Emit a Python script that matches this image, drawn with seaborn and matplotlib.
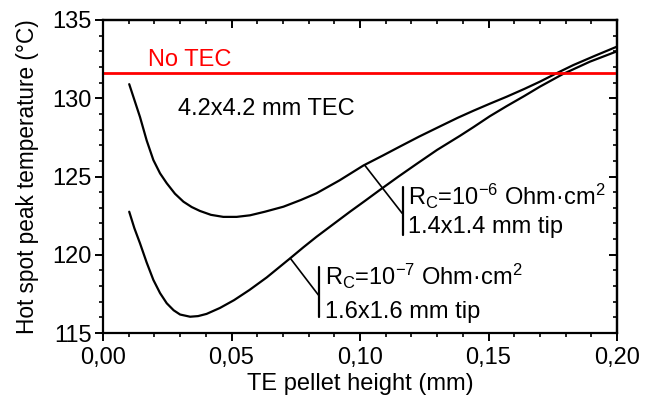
import matplotlib
matplotlib.use("Agg")
import matplotlib.pyplot as plt
import seaborn as sns
import pandas as pd
from matplotlib.ticker import MultipleLocator, FixedLocator, FixedFormatter

# ---- data ----
x_hi = [0.0102, 0.0125, 0.0144, 0.0170, 0.0196, 0.0222, 0.0248, 0.0280, 0.0313, 0.0345, 0.0377,
        0.0420, 0.0468, 0.0520, 0.0572, 0.0630, 0.0702, 0.0770, 0.0831, 0.0920, 0.1013,
        0.1090, 0.1156, 0.1230, 0.1311, 0.1380, 0.1441, 0.1505, 0.1571, 0.1640, 0.1700,
        0.1765, 0.1830, 0.1915, 0.2000]
y_hi = [130.9, 129.75, 128.8, 127.3, 126.05, 125.2, 124.57, 123.9, 123.39, 123.05, 122.8,
        122.55, 122.42, 122.42, 122.52, 122.75, 123.07, 123.5, 123.93, 124.75, 125.7,
        126.35, 126.92, 127.55, 128.2, 128.75, 129.2, 129.65, 130.1, 130.6, 131.06,
        131.6, 132.12, 132.72, 133.3]

x_lo = [0.0102, 0.0122, 0.0144, 0.0170, 0.0196, 0.0222, 0.0248, 0.0275, 0.0300, 0.0339, 0.0370,
        0.0403, 0.0455, 0.0510, 0.0570, 0.0637, 0.0728, 0.0780, 0.0831, 0.0900, 0.0961,
        0.1020, 0.1078, 0.1150, 0.1220, 0.1300, 0.1389, 0.1441, 0.1505, 0.1571, 0.1640,
        0.1700, 0.1790, 0.1895, 0.2000]
y_lo = [122.75, 121.7, 120.73, 119.5, 118.39, 117.55, 116.9, 116.45, 116.18, 116.04, 116.08,
        116.22, 116.6, 117.1, 117.75, 118.55, 119.77, 120.48, 121.15, 122.0, 122.75,
        123.45, 124.15, 125.0, 125.8, 126.7, 127.6, 128.15, 128.85, 129.5, 130.15,
        130.74, 131.55, 132.34, 133.0]

no_tec_level = 131.6

x_ticks = [0.00, 0.05, 0.10, 0.15, 0.20]
x_tick_labels = ["0,00", "0,05", "0,10", "0,15", "0,20"]
y_ticks = [115, 120, 125, 130, 135]
y_tick_labels = ["115", "120", "125", "130", "135"]

label_hi = ["R$_\\mathregular{C}$=10$^{\\mathregular{-6}}$ Ohm·cm$^{\\mathregular{2}}$", "1.4x1.4 mm tip"]
label_lo = ["R$_\\mathregular{C}$=10$^{\\mathregular{-7}}$ Ohm·cm$^{\\mathregular{2}}$", "1.6x1.6 mm tip"]

# ---- style ----
sns.set_theme(style="ticks")
plt.rcParams["font.family"] = ["Liberation Sans", "DejaVu Sans"]
plt.rcParams["mathtext.fontset"] = "custom"
plt.rcParams["mathtext.rm"] = "Liberation Sans"
plt.rcParams["mathtext.it"] = "Liberation Sans:italic"
plt.rcParams["mathtext.bf"] = "Liberation Sans:bold"
plt.rcParams["text.color"] = "black"
plt.rcParams["axes.labelcolor"] = "black"
plt.rcParams["xtick.color"] = "black"
plt.rcParams["ytick.color"] = "black"
plt.rcParams["xtick.labelcolor"] = "black"
plt.rcParams["ytick.labelcolor"] = "black"
plt.rcParams["axes.edgecolor"] = "black"

FS = 17
fig = plt.figure(figsize=(6.49, 4.03), dpi=100)
fig.subplots_adjust(left=103/649, right=617/649, bottom=1-333/403, top=1-20/403)
ax = fig.add_subplot(111)

df_hi = pd.DataFrame({"x": x_hi, "y": y_hi})
df_lo = pd.DataFrame({"x": x_lo, "y": y_lo})
sns.lineplot(data=df_hi, x="x", y="y", ax=ax, color="black", lw=1.6, sort=False)
sns.lineplot(data=df_lo, x="x", y="y", ax=ax, color="black", lw=1.6, sort=False)
ax.axhline(no_tec_level, color="#ff0000", lw=2.0)

ax.set_xlim(0, 0.20)
ax.set_ylim(115, 135)

ax.xaxis.set_major_locator(FixedLocator(x_ticks))
ax.xaxis.set_major_formatter(FixedFormatter(x_tick_labels))
ax.yaxis.set_major_locator(FixedLocator(y_ticks))
ax.yaxis.set_major_formatter(FixedFormatter(y_tick_labels))
ax.xaxis.set_minor_locator(MultipleLocator(0.01))
ax.yaxis.set_minor_locator(MultipleLocator(1))
ax.tick_params(which="major", direction="out", length=6, width=1.4, labelsize=FS,
               colors="black", labelcolor="black")
ax.tick_params(which="minor", direction="out", length=3, width=1.2, colors="black")
ax.tick_params(axis="x", which="major", pad=4)
ax.tick_params(axis="y", which="major", pad=2)

for s in ax.spines.values():
    s.set_linewidth(1.6)
    s.set_color("black")

# top/right inward ticks
secx = ax.secondary_xaxis("top")
secx.xaxis.set_major_locator(FixedLocator(x_ticks))
secx.xaxis.set_minor_locator(MultipleLocator(0.01))
secx.tick_params(which="major", direction="in", length=6, width=1.4, labeltop=False, colors="black")
secx.tick_params(which="minor", direction="in", length=3, width=1.2, colors="black")
secx.spines["top"].set_linewidth(1.6)
secy = ax.secondary_yaxis("right")
secy.yaxis.set_major_locator(FixedLocator(y_ticks))
secy.yaxis.set_minor_locator(MultipleLocator(1))
secy.tick_params(which="major", direction="in", length=6, width=1.4, labelright=False, colors="black")
secy.tick_params(which="minor", direction="in", length=3, width=1.2, colors="black")
secy.spines["right"].set_linewidth(1.6)

ax.set_xlabel("TE pellet height (mm)", fontsize=FS, labelpad=3, color="black")
ax.set_ylabel("Hot spot peak temperature (°C)", fontsize=16.3, labelpad=10, color="black")

# texts
ax.text(0.0175, 132.06, "No TEC", color="#ff0000", fontsize=FS, va="baseline")
ax.text(0.0292, 128.93, "4.2x4.2 mm TEC", color="black", fontsize=FS, va="baseline")

# leaders and bars
ax.plot([0.1018, 0.1164], [125.73, 122.65], color="black", lw=1.2)
ax.plot([0.1169, 0.1169], [124.35, 121.26], color="black", lw=1.6)
ax.text(0.1187, 123.18, label_hi[0], fontsize=FS, va="baseline", color="black")
ax.text(0.1187, 121.39, label_hi[1], fontsize=FS, va="baseline", color="black")

ax.plot([0.0729, 0.0838], [119.77, 117.43], color="black", lw=1.2)
ax.plot([0.0842, 0.0842], [119.24, 116.0], color="black", lw=1.6)
ax.text(0.0864, 118.07, label_lo[0], fontsize=FS, va="baseline", color="black")
ax.text(0.0864, 115.96, label_lo[1], fontsize=FS, va="baseline", color="black")

fig.savefig("out.png", dpi=100)
